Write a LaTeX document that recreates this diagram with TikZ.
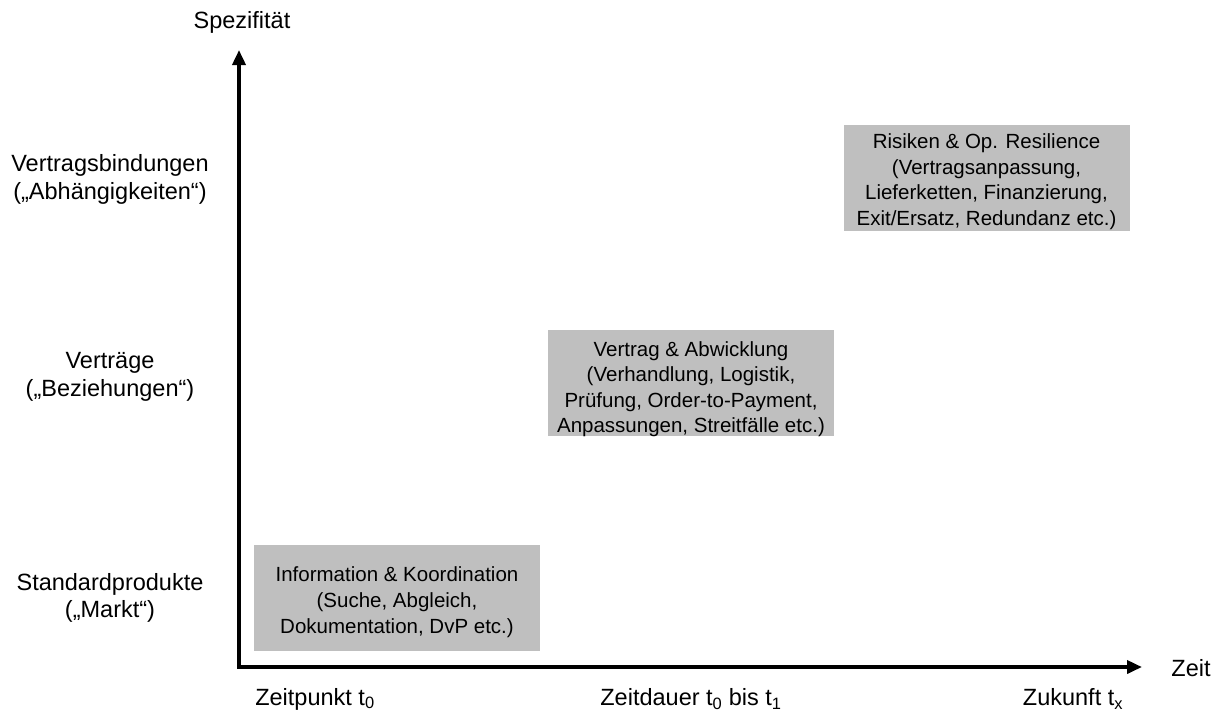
\documentclass[tikz,border=0pt]{standalone}
\usepackage{fontspec}
\setmainfont{Liberation Sans}
\usetikzlibrary{arrows.meta}
\begin{document}
\begin{tikzpicture}[x=1pt,y=-1pt,
  lbl/.style={font=\fontsize{23.5}{28}\selectfont, align=center, inner sep=0pt},
  phasebox/.style={fill=black!25, draw=none, minimum width=286pt, minimum height=106pt, inner sep=0pt},
  phasetext/.style={align=center, font=\fontsize{20.5}{25.5}\selectfont, inner sep=0pt},
  axis/.style={line width=3.6pt, -{Triangle[length=15pt,width=13pt]}}]
\useasboundingbox (0,0) rectangle (1222,713);
% axes
\coordinate (o) at (239,667);
\coordinate (ytop) at (239,50);
\coordinate (xend) at (1142,667);
\draw[axis] ([yshift=1.8pt]o) -- (ytop);
\draw[axis] ([xshift=-1.8pt]o) -- (xend);
% axis titles
\node[lbl] (yt) at (242,22) {Spezifität};
\node[lbl] (xt) at (1191,668) {Zeit};
% levels of specificity
\node[lbl] (l3) at (110,179) {Vertragsbindungen\\(„Abhängigkeiten“)};
\node[lbl] (l2) at (110,376.5) {Verträge\\(„Beziehungen“)};
\node[lbl, font=\fontsize{23.5}{27}\selectfont] (l1) at (110,598) {Standardprodukte\\(„Markt“)};
% points in time
\node[lbl] (t0) at (315,699) {Zeitpunkt t\textsubscript{0}};
\node[lbl] (t1) at (691,699) {Zeitdauer t\textsubscript{0} bis t\textsubscript{1}};
\node[lbl] (tx) at (1073,699) {Zukunft t\textsubscript{x}};
% phases: grey boxes with their text set slightly below centre
\node[phasebox] (b1) at (397,598) {};
\node[phasebox] (b2) at (691,383) {};
\node[phasebox] (b3) at (986.5,177.5) {};
\node[phasetext, font=\fontsize{20.5}{26}\selectfont] (b1t) at ([yshift=-4pt]b1.center) {Information \& Koordination\\(Suche, Abgleich,\\Dokumentation, DvP etc.)};
\node[phasetext] (b2t) at ([yshift=-6pt]b2.center) {Vertrag \& Abwicklung\\(Verhandlung, Logistik,\\Prüfung, Order-to-Payment,\\Anpassungen, Streitfälle etc.)};
\node[phasetext] (b3t) at ([yshift=-4pt]b3.center) {Risiken \& Op. Resilience\\(Vertragsanpassung,\\Lieferketten, Finanzierung,\\Exit/Ersatz, Redundanz etc.)};
\end{tikzpicture}
\end{document}
